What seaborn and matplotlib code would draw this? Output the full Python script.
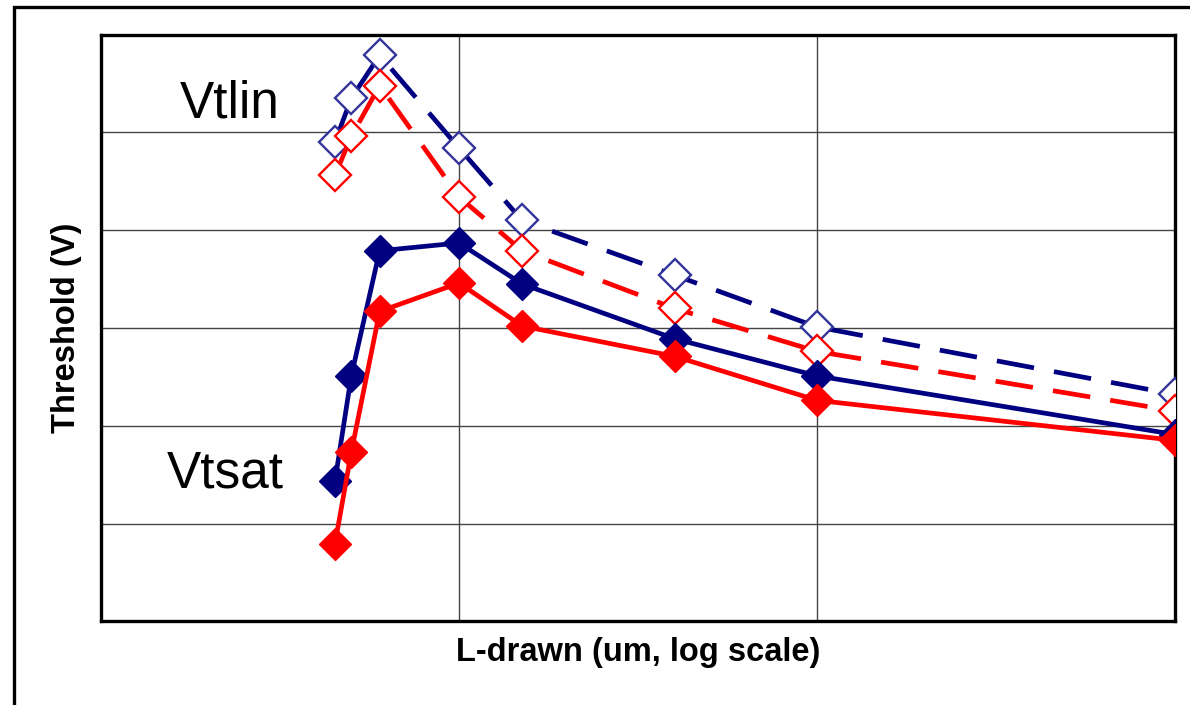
import matplotlib
matplotlib.use("Agg")
import matplotlib.pyplot as plt
import seaborn as sns
import pandas as pd
from matplotlib.patches import Rectangle

# ---- data ----
L_drawn = [0.045, 0.05, 0.06, 0.1, 0.15, 0.4, 1.0, 10.0]
vtlin_blue = [0.590, 0.635, 0.679, 0.584, 0.510, 0.454, 0.401, 0.332]
vtlin_red = [0.556, 0.596, 0.648, 0.534, 0.479, 0.420, 0.376, 0.315]
vtsat_blue = [0.243, 0.351, 0.479, 0.487, 0.445, 0.389, 0.351, 0.291]
vtsat_red = [0.179, 0.273, 0.417, 0.446, 0.402, 0.371, 0.326, 0.285]
y_ticks = [0.1, 0.2, 0.3, 0.4, 0.5, 0.6, 0.7]
x_ticks = [0.01, 0.1, 1, 10]

NAVY = "#000080"
NAVY_EDGE = "#333399"
RED = "#FF0000"

sns.set_style("white")
plt.rcParams["font.family"] = ["Liberation Sans", "DejaVu Sans"]
plt.rcParams["text.color"] = "black"
plt.rcParams["axes.labelcolor"] = "black"

fig = plt.figure(figsize=(11.9, 7.05), dpi=100)
ax = fig.add_axes([101 / 1190, (705 - 621.3) / 705, 1074.3 / 1190, 586.6 / 705])

dash = (0, (8.0, 4.3))
series = [
    (vtlin_blue, NAVY, NAVY_EDGE, "white", dash),
    (vtlin_red, RED, RED, "white", dash),
    (vtsat_blue, NAVY, NAVY, NAVY, "-"),
    (vtsat_red, RED, RED, RED, "-"),
]
for i, (vals, lc, ec, fc, ls) in enumerate(series):
    df = pd.DataFrame({"L": L_drawn, "V": vals})
    filled = fc != "white"
    sns.lineplot(data=df, x="L", y="V", ax=ax, color=lc, linewidth=3.4,
                 linestyle=ls, marker="D",
                 markersize=16.5 if filled else 16.0,
                 markerfacecolor=fc, markeredgecolor=ec,
                 markeredgewidth=1.0 if filled else 1.7,
                 zorder=3 + i, legend=False)

ax.set_xscale("log")
ax.set_xlim(0.01, 10)
ax.set_ylim(0.1, 0.7)
ax.set_xticks(x_ticks)
ax.set_yticks(y_ticks)
ax.minorticks_off()
ax.tick_params(length=0, labelbottom=False, labelleft=False)
ax.grid(True, color="#444444", linewidth=1.0)
ax.set_axisbelow(True)
for s in ax.spines.values():
    s.set_color("black")
    s.set_linewidth(2.4)
    s.set_visible(True)

ax.set_xlabel("L-drawn (um, log scale)", fontsize=23.5, fontweight="bold",
              labelpad=11, color="black")
ax.set_ylabel("Threshold (V)", fontsize=23.5, fontweight="bold",
              labelpad=14, color="black")

ax.text((180 - 101) / 1074.3, (621.3 - 118) / 586.6, "Vtlin", transform=ax.transAxes,
        fontsize=37, ha="left", va="baseline", color="black")
ax.text((167 - 101) / 1074.3, (621.3 - 487) / 586.6, "Vtsat", transform=ax.transAxes,
        fontsize=37, ha="left", va="baseline", color="black")

# outer frame (runs off the right and bottom edges)
fig.patches.append(Rectangle((14.3 / 1190, -0.1), 1.2, (705 - 6.7) / 705 + 0.1,
                             transform=fig.transFigure, fill=False,
                             edgecolor="black", linewidth=2.4, clip_on=False))

fig.savefig("out.png", dpi=100)
